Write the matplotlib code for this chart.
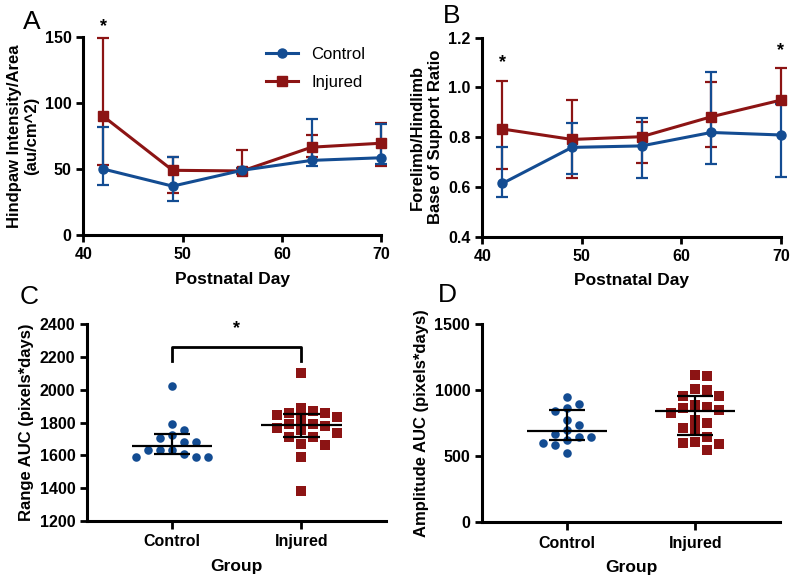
import numpy as np
import matplotlib
matplotlib.use('Agg')
import matplotlib.pyplot as plt
from matplotlib.lines import Line2D

plt.rcParams['font.family'] = ['Liberation Sans', 'DejaVu Sans']
plt.rcParams['font.weight'] = 'bold'
plt.rcParams['axes.labelweight'] = 'bold'
plt.rcParams['axes.linewidth'] = 2.2

azul = '#134C92'
rojo = '#8C1414'

# Datos panel A y B (dia postnatal)
dias = [42, 49, 56, 63, 70]
ctrl_a = [50, 37, 49, 56.5, 58.5]
ctrl_a_lo = [38, 26, 46, 52.5, 54]
ctrl_a_hi = [81.5, 59, 51, 87.5, 84]
inj_a = [90, 49, 48.5, 66.5, 69.5]
inj_a_lo = [53, 32, 47, 59, 52.5]
inj_a_hi = [149.5, 59, 64, 75.5, 85]

ctrl_b = [0.614, 0.759, 0.765, 0.819, 0.809]
ctrl_b_lo = [0.561, 0.652, 0.637, 0.691, 0.641]
ctrl_b_hi = [0.761, 0.856, 0.876, 1.061, 0.933]
inj_b = [0.833, 0.791, 0.802, 0.882, 0.949]
inj_b_lo = [0.671, 0.637, 0.695, 0.762, 0.935]
inj_b_hi = [1.027, 0.949, 0.862, 1.023, 1.079]

# Datos panel C (Range AUC)
grupos = ['Control', 'Injured']
range_ctrl = [2022, 1790, 1755, 1725, 1705, 1682, 1682, 1631, 1631, 1631,
              1611, 1590, 1587, 1587]
range_inj = [2100, 1890, 1870, 1856, 1856, 1846, 1836, 1822, 1791, 1789,
             1779, 1769, 1754, 1738, 1714, 1710, 1669, 1661, 1592, 1385]
range_stats = {'Control': (1658, 1607, 1733), 'Injured': (1783, 1714, 1853)}

# Datos panel D (Amplitude AUC)
amp_ctrl = [947, 894, 863, 845, 777, 734, 699, 668, 643, 643, 621, 603, 585, 527]
amp_inj = [1113, 1106, 1007, 1000, 957, 957, 886, 871, 868, 850, 830, 775,
           754, 712, 699, 643, 610, 598, 593, 547]
amp_stats = {'Control': (688, 620, 850), 'Injured': (845, 658, 960)}

fig = plt.figure(figsize=(8, 5.81), dpi=100)
axA = fig.add_axes([0.104, 0.5955, 0.3725, 0.341])
axB = fig.add_axes([0.603, 0.5926, 0.373, 0.3425])
axC = fig.add_axes([0.109, 0.1033, 0.374, 0.339])
axD = fig.add_axes([0.6025, 0.101, 0.3725, 0.341])


def estilo(ax):
    ax.spines['top'].set_visible(False)
    ax.spines['right'].set_visible(False)
    ax.tick_params(direction='out', length=5, width=2, labelsize=11.5)


def negrita(ax):
    for t in ax.get_xticklabels() + ax.get_yticklabels():
        t.set_fontweight('bold')


def linea(ax, y, lo, hi, color, marker):
    y = np.array(y)
    err = [y - np.array(lo), np.array(hi) - y]
    ax.errorbar(dias, y, yerr=err, color=color, marker=marker, markersize=6.5,
                lw=2.2, elinewidth=1.6, capsize=4.5, capthick=1.6,
                clip_on=False, zorder=3)


# Panel A
estilo(axA)
linea(axA, inj_a, inj_a_lo, inj_a_hi, rojo, 's')
linea(axA, ctrl_a, ctrl_a_lo, ctrl_a_hi, azul, 'o')
axA.set_xlim(40, 70)
axA.set_ylim(0, 150)
axA.set_xticks([40, 50, 60, 70])
axA.set_yticks([0, 50, 100, 150])
axA.set_xlabel('Postnatal Day', fontsize=12.5, labelpad=7)
axA.set_ylabel('Hindpaw Intensity/Area\n(au/cm^2)', fontsize=12)
axA.text(42, 158, '*', ha='center', va='center', fontsize=13, clip_on=False)
manejadores = [Line2D([], [], color=azul, marker='o', lw=2.2, markersize=6.5),
               Line2D([], [], color=rojo, marker='s', lw=2.2, markersize=6.5)]
axA.legend(manejadores, grupos, loc='upper right', frameon=False,
           prop={'weight': 'normal', 'size': 12}, handlelength=1.9,
           borderaxespad=0.2, labelspacing=0.8, bbox_to_anchor=(0.98, 1.0))
negrita(axA)

# Panel B
estilo(axB)
linea(axB, inj_b, inj_b_lo, inj_b_hi, rojo, 's')
linea(axB, ctrl_b, ctrl_b_lo, ctrl_b_hi, azul, 'o')
axB.set_xlim(40, 70)
axB.set_ylim(0.4, 1.2)
axB.set_xticks([40, 50, 60, 70])
axB.set_yticks([0.4, 0.6, 0.8, 1.0, 1.2])
axB.set_yticklabels(['0.4', '0.6', '0.8', '1.0', '1.2'])
axB.set_xlabel('Postnatal Day', fontsize=12.5, labelpad=7)
axB.set_ylabel('Forelimb/Hindlimb\nBase of Support Ratio', fontsize=12)
axB.text(42, 1.1, '*', ha='center', va='center', fontsize=13)
axB.text(70, 1.15, '*', ha='center', va='center', fontsize=13, clip_on=False)
negrita(axB)


def enjambre(ax, vals, centro, dy=10.0, dx=12.0):
    # distribuye los puntos tipo "beeswarm" (en pixeles)
    pos = ax.get_position()
    x0, x1 = ax.get_xlim()
    y0, y1 = ax.get_ylim()
    px_x = pos.width * 800 / (x1 - x0)
    px_y = pos.height * 581 / (y1 - y0)
    vals = np.array(vals, dtype=float)
    orden = np.argsort(vals)[::-1]
    puestos = []
    xs = np.zeros(len(vals))
    paso = dx / 2.0
    for i in orden:
        yp = vals[i] * px_y
        elegido = 0.0
        for k in range(60):
            offs = [0.0] if k == 0 else [k * paso, -k * paso]
            ok = None
            for o in offs:
                if all(abs(o - a) >= dx or abs(yp - b) >= dy for a, b in puestos):
                    ok = o
                    break
            if ok is not None:
                elegido = ok
                break
        puestos.append((elegido, yp))
        xs[i] = centro + elegido / px_x
    return xs


def dispersion(ax, ctrl, inj, stats, ylim, yticks, ylabel):
    estilo(ax)
    ax.set_xlim(0.343, 2.657)
    ax.set_ylim(*ylim)
    ax.set_yticks(yticks)
    ax.set_xticks([1, 2])
    ax.set_xticklabels(grupos, fontsize=11.5)
    ax.tick_params(axis='x', length=6)
    ax.set_xlabel('Group', fontsize=12.5, labelpad=7)
    ax.set_ylabel(ylabel, fontsize=12)
    xc = enjambre(ax, ctrl, 1)
    xi = enjambre(ax, inj, 2)
    ax.scatter(xc, ctrl, s=38, marker='o', color=azul, zorder=2, lw=0)
    ax.scatter(xi, inj, s=42, marker='s', color=rojo, zorder=2, lw=0)
    for j, g in enumerate(grupos):
        m, lo, hi = stats[g]
        x = j + 1
        ax.hlines(m, x - 0.31, x + 0.31, color='black', lw=1.6, zorder=3)
        ax.hlines([lo, hi], x - 0.14, x + 0.14, color='black', lw=1.6, zorder=3)
        ax.vlines(x, lo, hi, color='black', lw=1.6, zorder=3)
    negrita(ax)


dispersion(axC, range_ctrl, range_inj, range_stats, (1200, 2400),
           [1200, 1400, 1600, 1800, 2000, 2200, 2400], 'Range AUC (pixels*days)')
axC.plot([1, 1, 2, 2], [2176, 2258, 2258, 2176], color='black', lw=2)
axC.text(1.5, 2375, '*', ha='center', va='center', fontsize=13)

dispersion(axD, amp_ctrl, amp_inj, amp_stats, (0, 1500),
           [0, 500, 1000, 1500], 'Amplitude AUC (pixels*days)')

for letra, x, y in [('A', 0.04, 0.962), ('B', 0.564, 0.972),
                    ('C', 0.037, 0.489), ('D', 0.559, 0.492)]:
    fig.text(x, y, letra, fontsize=19, fontweight='normal', ha='center', va='center')

fig.savefig('out.png', dpi=100)
